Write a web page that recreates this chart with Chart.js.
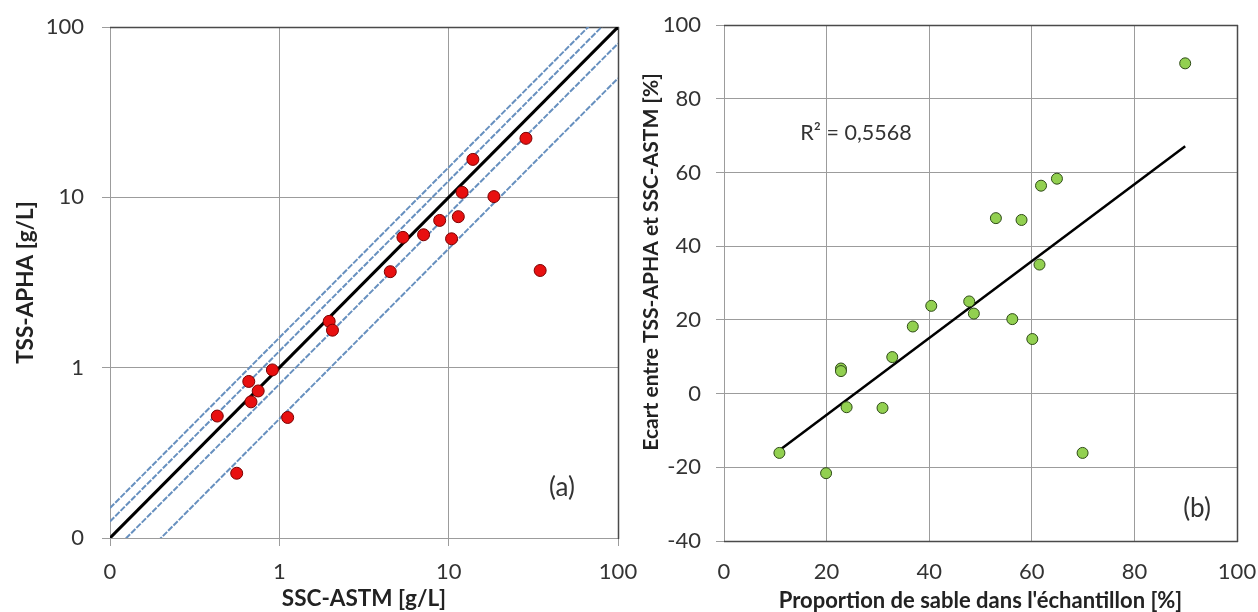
<!DOCTYPE html>
<html><head><meta charset="utf-8">
<script src="https://cdn.jsdelivr.net/npm/chart.js@4.4.1/dist/chart.umd.min.js"></script>
<style>
html,body{margin:0;padding:0;background:#fff;}
#wrap{position:relative;width:1258px;height:612px;overflow:hidden;background:#fff;}
canvas{position:absolute;top:0;}
#c1{left:0;}
#c2{left:628px;}
</style></head><body>
<div id="wrap"><canvas id="c1" width="680" height="612"></canvas><canvas id="c2" width="630" height="612"></canvas></div>
<script>
// ---------- Chart (a): TSS-APHA vs SSC-ASTM (log-log) ----------
const sscASTM = [0.43, 0.66, 0.75, 0.68, 0.91, 1.12, 0.56, 1.97, 2.06, 28.6, 13.9, 12.0, 18.5, 11.4, 8.85, 7.11, 5.37, 10.4, 4.52, 34.7];
const tssAPHA = [0.52, 0.83, 0.73, 0.63, 0.97, 0.51, 0.24, 1.87, 1.66, 22.2, 16.7, 10.7, 10.1, 7.70, 7.32, 6.03, 5.82, 5.71, 3.66, 3.72];
const logTickValues = [0.1, 1, 10, 100];
const logTickLabels = ['0', '1', '10', '100'];
const refFactors = [1.5, 1.25, 1, 0.8, 0.5];   // reference lines y = k·x
const titleAx = 'SSC-ASTM [g/L]';
const titleAy = 'TSS-APHA [g/L]';
const labelA = '(a)';

// ---------- Chart (b): écart vs proportion de sable ----------
const sandPct  = [89.9, 64.9, 61.8, 53.0, 58.0, 61.5, 47.8, 40.4, 48.7, 56.2, 60.1, 69.9, 36.8, 32.8, 22.8, 22.8, 23.9, 30.9, 10.8, 19.9];
const ecartPct = [89.6, 58.3, 56.4, 47.6, 47.1, 35.0, 25.0, 23.8, 21.7, 20.2, 14.8, -16.1, 18.2, 9.9, 6.8, 6.1, -3.7, -3.9, -16.1, -21.6];
const xTicksB = [0, 20, 40, 60, 80, 100];
const yTicksB = [-40, -20, 0, 20, 40, 60, 80, 100];
const titleBx = "Proportion de sable dans l'échantillon [%]";
const titleBy = 'Ecart entre TSS-APHA et SSC-ASTM [%]';
const r2Text = 'R² = 0,5568';
const labelB = '(b)';

const FONT = 'Lato, "Open Sans", sans-serif';
const TICK_COLOR = '#333333';
const TITLE_COLOR = '#222222';
const GRID = '#9c9c9c';
const FRAME = '#4a4a4a';

// linear regression for the trend line
function linReg(xs, ys) {
  const n = xs.length;
  const mx = xs.reduce((a, b) => a + b, 0) / n;
  const my = ys.reduce((a, b) => a + b, 0) / n;
  let sxy = 0, sxx = 0;
  for (let i = 0; i < n; i++) { sxy += (xs[i] - mx) * (ys[i] - my); sxx += (xs[i] - mx) ** 2; }
  const slope = sxy / sxx;
  return { slope, intercept: my - slope * mx };
}

const framePlugin = {
  id: 'frame',
  beforeDatasetsDraw(chart, args, opts) {
    const { left, top, right, bottom } = chart.chartArea;
    const ctx = chart.ctx;
    ctx.save();
    ctx.strokeStyle = opts.color; ctx.lineWidth = opts.width;
    ctx.beginPath();
    const sides = opts.sides || [];
    if (sides.includes('top')) { ctx.moveTo(left, top + 0.5); ctx.lineTo(right + 1, top + 0.5); }
    if (sides.includes('right')) { ctx.moveTo(right + 0.5, top); ctx.lineTo(right + 0.5, bottom + 1); }
    if (sides.includes('bottom')) { ctx.moveTo(left, bottom + 0.5); ctx.lineTo(right + 1, bottom + 0.5); }
    ctx.stroke();
    ctx.restore();
  }
};

const textPlugin = {
  id: 'texts',
  afterDatasetsDraw(chart, args, opts) {
    const ctx = chart.ctx; const ca = chart.chartArea;
    ctx.save();
    (opts.items || []).forEach(it => {
      ctx.font = it.font; ctx.fillStyle = it.color || TICK_COLOR;
      ctx.textAlign = 'center'; ctx.textBaseline = 'middle';
      const x = it.fromRight != null ? ca.right - it.fromRight : ca.left + it.fromLeft;
      const y = it.fromBottom != null ? ca.bottom - it.fromBottom : ca.top + it.fromTop;
      ctx.fillText(it.text, x, y);
    });
    ctx.restore();
  }
};

function noPadX(s, h) { s.height = h; s.paddingLeft = 0; s.paddingRight = 0; }
function noPadY(s, w) { s.width = w; s.paddingTop = 0; s.paddingBottom = 0; }

// ---------- build chart (a) ----------
const ptsA = sscASTM.map((x, i) => ({ x, y: tssAPHA[i] }));
const xMinA = logTickValues[0], xMaxA = logTickValues[logTickValues.length - 1];
const refSets = refFactors.map(k => ({
  data: [{ x: xMinA, y: xMinA * k }, { x: xMaxA, y: xMaxA * k }],
  showLine: true, pointRadius: 0,
  borderColor: k === 1 ? '#000000' : '#6790bf',
  borderWidth: k === 1 ? 3 : 2,
  borderDash: k === 1 ? [] : [6, 1.5],
  order: 2
}));

new Chart(document.getElementById('c1'), {
  type: 'scatter',
  data: {
    datasets: [
      { data: ptsA, backgroundColor: '#e81010', borderColor: '#7a0000', borderWidth: 1, pointRadius: 6, order: 1 },
      ...refSets
    ]
  },
  options: {
    responsive: false, animation: false, devicePixelRatio: 1,
    layout: { padding: { left: 0, top: 27, right: 62, bottom: 0 } },
    plugins: {
      legend: { display: false }, tooltip: { enabled: false },
      frame: { color: FRAME, width: 1.5, sides: ['top', 'right'] },
      texts: { items: [{ text: labelA, font: '26px ' + FONT, fromRight: 56, fromBottom: 50 }] }
    },
    scales: {
      x: {
        type: 'logarithmic', min: xMinA, max: xMaxA,
        afterBuildTicks: s => { s.ticks = logTickValues.map(v => ({ value: v })); },
        afterFit: s => noPadX(s, 74),
        ticks: { autoSkip: false, maxRotation: 0, padding: 13, color: TICK_COLOR, font: { family: FONT, size: 22 },
                 callback: (v, i) => logTickLabels[i] },
        grid: { color: GRID, lineWidth: 1, drawTicks: true, tickLength: 8 },
        border: { color: GRID, width: 1 },
        title: { display: true, text: titleAx, color: TITLE_COLOR, font: { family: FONT, size: 22.5, weight: 'bold', lineHeight: 1.2 }, padding: { top: 0.5, bottom: 0 } }
      },
      y: {
        type: 'logarithmic', min: xMinA, max: xMaxA,
        afterBuildTicks: s => { s.ticks = logTickValues.map(v => ({ value: v })); },
        afterFit: s => noPadY(s, 110),
        ticks: { autoSkip: false, padding: 18, color: TICK_COLOR, font: { family: FONT, size: 22 },
                 callback: (v, i) => logTickLabels[i] },
        grid: { color: GRID, lineWidth: 1, drawTicks: true, tickLength: 8 },
        border: { color: GRID, width: 1 },
        title: { display: true, text: titleAy, color: TITLE_COLOR, font: { family: FONT, size: 22.5, weight: 'bold', lineHeight: 1.2 }, padding: { top: 12.5, bottom: 0 } }
      }
    }
  },
  plugins: [framePlugin, textPlugin]
});

// ---------- build chart (b) ----------
const ptsB = sandPct.map((x, i) => ({ x, y: ecartPct[i] }));
const reg = linReg(sandPct, ecartPct);
const tx0 = Math.min(...sandPct), tx1 = Math.max(...sandPct);
const trend = [{ x: tx0, y: reg.intercept + reg.slope * tx0 }, { x: tx1, y: reg.intercept + reg.slope * tx1 }];

new Chart(document.getElementById('c2'), {
  type: 'scatter',
  data: {
    datasets: [
      { data: ptsB, backgroundColor: '#92d050', borderColor: '#2e4a17', borderWidth: 1, pointRadius: 5.5, order: 1 },
      { data: trend, showLine: true, pointRadius: 0, borderColor: '#000000', borderWidth: 2.5, order: 2 }
    ]
  },
  options: {
    responsive: false, animation: false, devicePixelRatio: 1,
    layout: { padding: { left: 0, top: 25, right: 21, bottom: 0 } },
    plugins: {
      legend: { display: false }, tooltip: { enabled: false },
      frame: { color: FRAME, width: 1.5, sides: ['top', 'right', 'bottom'] },
      texts: { items: [
        { text: r2Text, font: '21.5px ' + FONT, fromLeft: 132, fromTop: 108 },
        { text: labelB, font: '26px ' + FONT, fromRight: 40, fromBottom: 32 }
      ] }
    },
    scales: {
      x: {
        type: 'linear', min: xTicksB[0], max: xTicksB[xTicksB.length - 1],
        afterBuildTicks: s => { s.ticks = xTicksB.map(v => ({ value: v })); },
        afterFit: s => noPadX(s, 71),
        ticks: { autoSkip: false, maxRotation: 0, padding: 18, color: TICK_COLOR, font: { family: FONT, size: 22 } },
        grid: { color: GRID, lineWidth: 1, drawTicks: false },
        border: { color: GRID, width: 1 },
        title: { display: true, text: titleBx, color: TITLE_COLOR, font: { family: FONT, size: 22, weight: 'bold', lineHeight: 1 }, padding: { top: 0, bottom: 0 } }
      },
      y: {
        type: 'linear', min: yTicksB[0], max: yTicksB[yTicksB.length - 1],
        afterBuildTicks: s => { s.ticks = yTicksB.map(v => ({ value: v })); },
        afterFit: s => noPadY(s, 96),
        ticks: { autoSkip: false, padding: 15, color: TICK_COLOR, font: { family: FONT, size: 22 } },
        grid: { color: GRID, lineWidth: 1, drawTicks: true, tickLength: 8 },
        border: { color: GRID, width: 1 },
        title: { display: true, text: '\u2002\u2002\u2002\u2002' + titleBy, color: TITLE_COLOR, font: { family: FONT, size: 21, weight: 'bold', lineHeight: 1.2 }, padding: { top: 10.5, bottom: 0 } }
      }
    }
  },
  plugins: [framePlugin, textPlugin]
});
</script>
</body></html>
